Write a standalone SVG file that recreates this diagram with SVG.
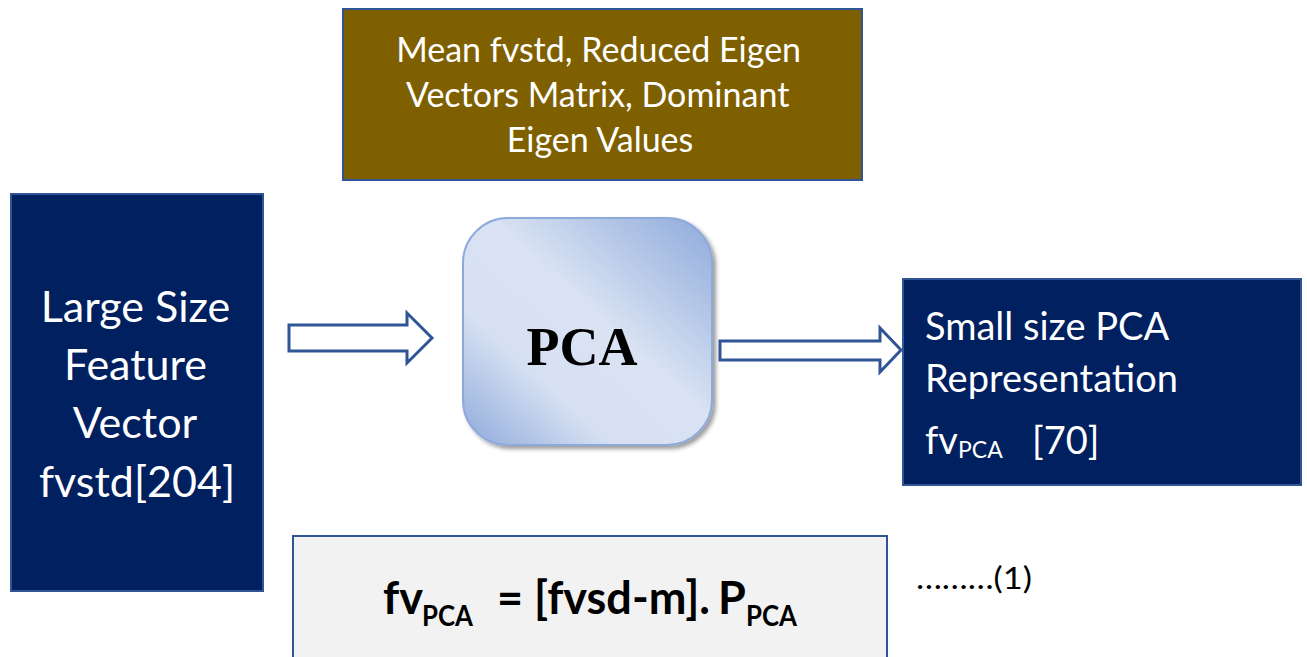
<svg xmlns="http://www.w3.org/2000/svg" width="1307" height="657" viewBox="0 0 1307 657">
  <style>
    .lbl { font-family: Lato, "Open Sans", "Liberation Sans", sans-serif; fill: #ffffff; }
    .dark { fill: #000000; }
    .navy { fill: #002060; stroke: #2f5597; stroke-width: 2; }
    .arrow { fill: #ffffff; stroke: #2f5597; stroke-width: 3; stroke-linejoin: miter; }
  </style>
  <defs>
    <linearGradient id="pcaFill" x1="0" y1="1" x2="1" y2="0">
      <stop offset="0" stop-color="#8eaadb"/>
      <stop offset="0.3" stop-color="#d6e0f2"/>
      <stop offset="0.55" stop-color="#dae3f3"/>
      <stop offset="1" stop-color="#8eaadb"/>
    </linearGradient>
    <filter id="shadow" x="-10%" y="-10%" width="125%" height="125%">
      <feGaussianBlur in="SourceAlpha" stdDeviation="2"/>
      <feOffset dx="3" dy="3"/>
      <feComponentTransfer><feFuncA type="linear" slope="0.4"/></feComponentTransfer>
      <feMerge><feMergeNode/><feMergeNode in="SourceGraphic"/></feMerge>
    </filter>
  </defs>
  <rect width="1307" height="657" fill="#ffffff"/>

  <g id="params">
    <rect x="343" y="9" width="519" height="171" fill="#7f6000" stroke="#2f5597" stroke-width="2"/>
    <text class="lbl" font-size="34" text-anchor="middle">
      <tspan x="603" y="62">Mean fvstd, Reduced Eigen</tspan>
      <tspan x="602" y="107">Vectors Matrix, Dominant</tspan>
      <tspan x="600" y="152">Eigen Values</tspan>
    </text>
  </g>

  <g id="input">
    <rect class="navy" x="11" y="194" width="252" height="397"/>
    <text class="lbl" font-size="43" text-anchor="middle">
      <tspan x="141" y="322">Large Size</tspan>
      <tspan x="141" y="380">Feature</tspan>
      <tspan x="140" y="438">Vector</tspan>
      <tspan x="137" y="497">fvstd[204]</tspan>
    </text>
  </g>

  <g id="pca">
    <rect x="463" y="218" width="249" height="227" rx="45" ry="45" fill="url(#pcaFill)" stroke="#8eaadb" stroke-width="2" filter="url(#shadow)"/>
    <text class="dark" x="582" y="365" font-family="'Liberation Serif', serif" font-weight="bold" font-size="54" text-anchor="middle">PCA</text>
  </g>

  <g id="output">
    <rect class="navy" x="903" y="279" width="398" height="206"/>
    <text class="lbl" font-size="38">
      <tspan x="925" y="340">Small size PCA</tspan>
      <tspan x="925" y="392">Representation</tspan>
      <tspan x="925" y="454">fv</tspan><tspan x="958" y="458" font-size="23">PCA</tspan><tspan x="1032" y="454">[70]</tspan>
    </text>
  </g>

  <g id="formula">
    <rect x="293" y="536" width="594" height="130" fill="#f2f2f2" stroke="#2f5597" stroke-width="2"/>
    <text class="lbl dark" font-size="45" font-weight="bold">
      <tspan x="383" y="614">fv</tspan><tspan x="422" y="626" font-size="28" textLength="51" lengthAdjust="spacingAndGlyphs">PCA</tspan><tspan x="497" y="614" textLength="213">= [fvsd-m].</tspan><tspan x="718" y="614">P</tspan><tspan x="746" y="626" font-size="28" textLength="51" lengthAdjust="spacingAndGlyphs">PCA</tspan>
    </text>
  </g>

  <g id="eqnum">
    <text class="lbl dark" font-size="30" x="916" y="589" textLength="116" lengthAdjust="spacingAndGlyphs">………(1)</text>
  </g>

  <g id="connectors">
    <path class="arrow" d="M289,325 H407 V313 L432,338 L407,363 V351 H289 Z"/>
    <path class="arrow" d="M720,341 H880 V328 L901,350 L880,372 V360 H720 Z"/>
  </g>
</svg>
